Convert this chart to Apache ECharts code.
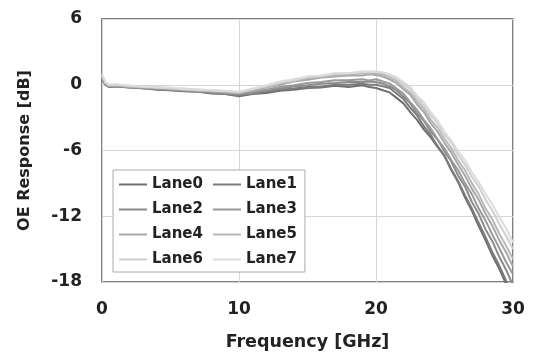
<!DOCTYPE html>
<html>
<head>
<meta charset="utf-8">
<script src="https://cdn.jsdelivr.net/npm/echarts@6/dist/echarts.min.js"></script>
<style>
html, body { margin: 0; padding: 0; background: #fff; }
#chart { width: 535px; height: 359px; }
</style>
</head>
<body>
<div id="chart"></div>
<script>
// frequency points [GHz]
var freq = [0, 0.25, 0.5, 1, 2, 3, 4, 5, 6, 7, 8, 9, 10,
	11, 12, 13, 14, 15, 16, 17, 18, 19, 19.5, 20,
	20.5, 21, 21.5, 22, 22.5, 23, 23.5, 24, 24.5, 25, 25.5, 26, 26.5, 27, 27.5, 28, 28.5, 29, 29.5, 30];

var lane0 = [0.5, 0.0, -0.2, -0.15, -0.25, -0.3, -0.45, -0.5, -0.6, -0.65, -0.8, -0.85, -1.05,
	-0.85, -0.75, -0.55, -0.45, -0.3, -0.25, -0.1, -0.2, -0.05, -0.2, -0.3,
	-0.5, -0.7, -1.2, -1.7, -2.5, -3.2, -4.1, -4.8, -5.7, -6.5, -7.8, -8.9, -10.3, -11.5, -12.9, -14.2, -15.6, -16.8, -18.2, -19.4];
var lane1 = [0.6, 0.05, -0.15, -0.1, -0.2, -0.35, -0.35, -0.5, -0.55, -0.65, -0.7, -0.85, -0.95,
	-0.8, -0.65, -0.45, -0.35, -0.2, -0.15, 0.0, 0.0, 0.1, 0.0, 0.0,
	-0.15, -0.3, -0.8, -1.3, -2.1, -2.8, -3.8, -4.6, -5.6, -6.5, -7.7, -8.8, -10.1, -11.3, -12.6, -13.9, -15.3, -16.5, -17.9, -19.0];
var lane2 = [0.5, 0.0, -0.2, -0.1, -0.25, -0.25, -0.4, -0.45, -0.5, -0.65, -0.7, -0.8, -0.9,
	-0.75, -0.5, -0.35, -0.15, -0.05, 0.1, 0.15, 0.25, 0.25, 0.3, 0.25,
	0.1, -0.15, -0.5, -1.1, -1.7, -2.6, -3.3, -4.3, -5.0, -6.1, -7.0, -8.3, -9.3, -10.7, -11.8, -13.2, -14.3, -15.7, -16.9, -18.3];
var lane3 = [0.7, 0.1, -0.1, -0.1, -0.2, -0.25, -0.35, -0.4, -0.5, -0.55, -0.65, -0.7, -0.85,
	-0.6, -0.45, -0.2, -0.05, 0.15, 0.25, 0.4, 0.4, 0.5, 0.4, 0.5,
	0.3, 0.1, -0.35, -0.8, -1.6, -2.3, -3.2, -4.0, -5.0, -5.8, -6.9, -7.8, -9.0, -10.0, -11.3, -12.4, -13.7, -14.9, -16.2, -17.3];
var lane4 = [0.8, 0.1, -0.1, -0.05, -0.15, -0.25, -0.3, -0.4, -0.45, -0.55, -0.6, -0.7, -0.75,
	-0.55, -0.25, 0.0, 0.3, 0.45, 0.65, 0.75, 0.85, 0.85, 0.95, 0.9,
	0.75, 0.5, 0.15, -0.4, -0.9, -1.8, -2.5, -3.5, -4.3, -5.3, -6.2, -7.3, -8.3, -9.5, -10.5, -11.8, -12.9, -14.2, -15.3, -16.6];
var lane5 = [0.8, 0.2, -0.05, -0.05, -0.15, -0.2, -0.3, -0.3, -0.45, -0.45, -0.6, -0.6, -0.75,
	-0.45, -0.2, 0.15, 0.35, 0.6, 0.75, 0.9, 0.95, 1.05, 1.05, 1.05,
	0.95, 0.7, 0.35, -0.2, -0.7, -1.5, -2.2, -3.2, -3.9, -4.9, -5.8, -6.9, -7.8, -9.0, -10.0, -11.3, -12.3, -13.6, -14.7, -15.9];
var lane6 = [0.9, 0.2, 0.0, 0.0, -0.1, -0.2, -0.2, -0.35, -0.35, -0.5, -0.5, -0.6, -0.65,
	-0.4, -0.15, 0.2, 0.4, 0.7, 0.8, 1.0, 1.05, 1.15, 1.15, 1.2,
	1.1, 0.85, 0.55, 0.1, -0.4, -1.2, -1.9, -2.8, -3.5, -4.5, -5.3, -6.4, -7.3, -8.4, -9.3, -10.5, -11.5, -12.7, -13.8, -15.0];
var lane7 = [1.0, 0.25, 0.0, 0.05, -0.1, -0.15, -0.25, -0.25, -0.4, -0.4, -0.5, -0.55, -0.65,
	-0.35, -0.05, 0.3, 0.5, 0.75, 0.85, 1.05, 1.05, 1.2, 1.2, 1.2,
	1.15, 0.95, 0.7, 0.25, -0.2, -1.0, -1.6, -2.5, -3.3, -4.3, -5.1, -6.1, -6.9, -8.0, -8.9, -10.0, -10.9, -12.1, -13.1, -14.4];

var laneNames = ['Lane0', 'Lane1', 'Lane2', 'Lane3', 'Lane4', 'Lane5', 'Lane6', 'Lane7'];
var laneData = [lane0, lane1, lane2, lane3, lane4, lane5, lane6, lane7];
var laneColors = ['#6f6f6f', '#7b7b7b', '#8b8b8b', '#999999', '#a7a7a7', '#b9b9b9', '#cfcfcf', '#dcdcdc'];

var FONT = 'DejaVu Sans';

var series = laneNames.map(function (name, i) {
	return {
		name: name,
		type: 'line',
		showSymbol: false,
		clip: true,
		data: freq.map(function (f, j) { return [f, laneData[i][j]]; }),
		lineStyle: { width: 2, color: laneColors[i] },
		itemStyle: { color: laneColors[i] }
	};
});

var chart = echarts.init(document.getElementById('chart'));
chart.setOption({
	animation: false,
	backgroundColor: '#fff',
	color: laneColors,
	grid: {
		left: 102, right: 22, top: 19, bottom: 77,
		show: true, borderColor: '#555', borderWidth: 1.5, backgroundColor: 'transparent'
	},
	xAxis: {
		type: 'value', min: 0, max: 30, interval: 10,
		name: 'Frequency [GHz]', nameLocation: 'middle', nameGap: 51,
		nameTextStyle: { fontFamily: FONT, fontWeight: 'bold', fontSize: 17.5, color: '#222' },
		axisLine: { show: false }, axisTick: { show: false },
		axisLabel: { margin: 19, fontFamily: FONT, fontWeight: 'bold', fontSize: 17, color: '#222' },
		splitLine: { show: true, lineStyle: { color: '#d6d6d6', width: 1 } }
	},
	yAxis: {
		type: 'value', min: -18, max: 6, interval: 6,
		name: 'OE Response [dB]', nameLocation: 'middle', nameGap: 69,
		nameTextStyle: { fontFamily: FONT, fontWeight: 'bold', fontSize: 16, color: '#222' },
		axisLine: { show: false }, axisTick: { show: false },
		axisLabel: { margin: 20, fontFamily: FONT, fontWeight: 'bold', fontSize: 17, color: '#222' },
		splitLine: { show: true, lineStyle: { color: '#d6d6d6', width: 1 } }
	},
	legend: {
		data: laneNames,
		left: 113, top: 170, width: 186,
		orient: 'horizontal',
		padding: [7, 8, 5, 6],
		itemGap: 10, itemWidth: 28, itemHeight: 2,
		icon: 'rect',
		borderColor: '#aaa', borderWidth: 1, backgroundColor: '#fff',
		textStyle: { fontFamily: FONT, fontWeight: 'bold', fontSize: 15, color: '#222', width: 53 }
	},
	series: series
});
</script>
</body>
</html>
